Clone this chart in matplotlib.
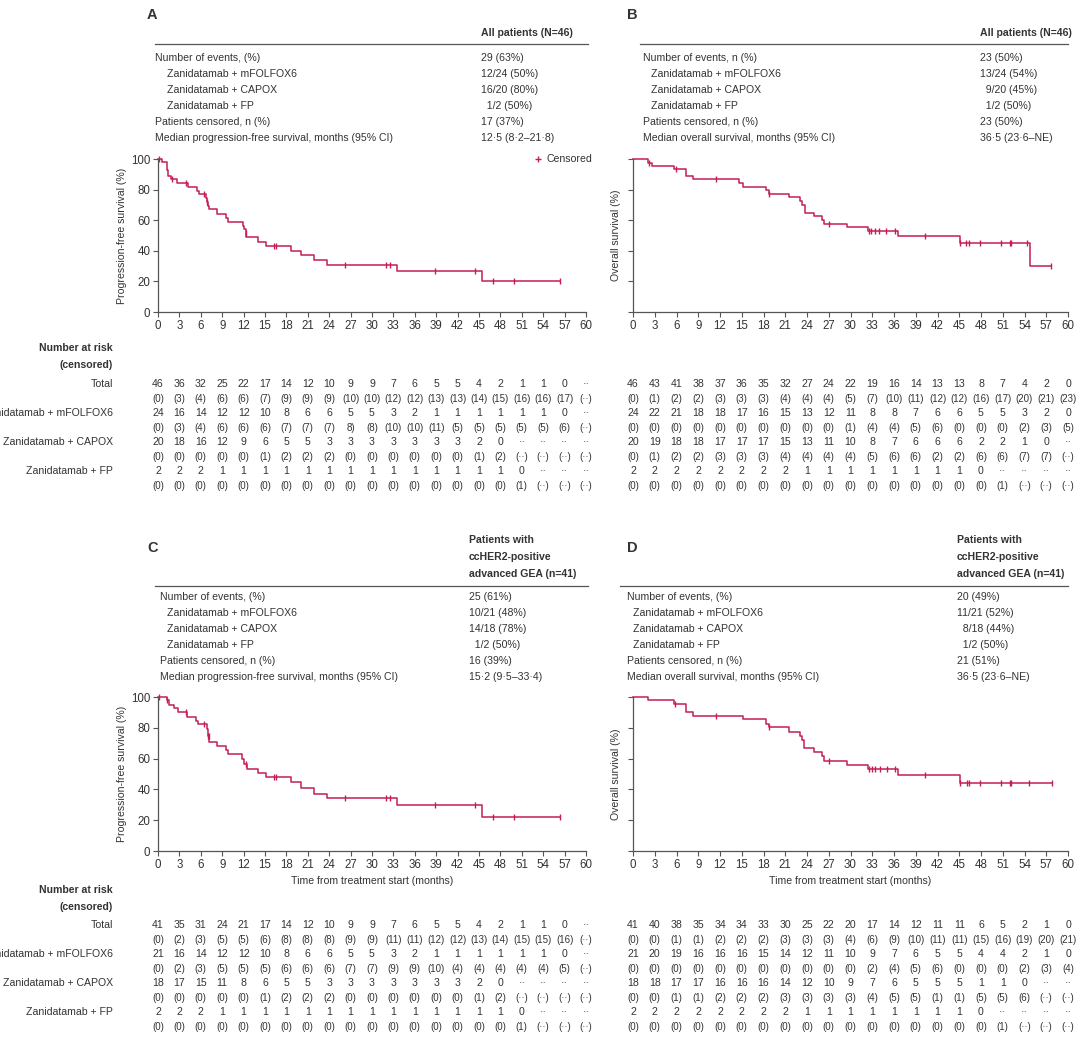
import matplotlib
matplotlib.use("Agg")
import matplotlib.pyplot as plt
from matplotlib.transforms import blended_transform_factory as btf

plt.rcParams['font.family'] = ['Liberation Sans', 'DejaVu Sans']
RED = '#c41e55'
TXT = '#333333'
GR = '#555555'

months = list(range(0, 61, 3))

# ---------- curves (time, survival after step) ----------
A_t = [0, 0.5, 1.2, 1.4, 1.8, 2.7, 4.2, 5.4, 5.8, 6.7, 6.9, 7.0, 7.2, 8.3, 9.6, 9.8, 11.9, 12.1, 12.3, 12.4, 14.0, 15.2, 18.6, 20.0, 21.9, 23.7, 33.5, 45.4, 56.3]
A_s = [100, 97.8, 93, 89, 87, 84, 82, 79, 77, 74.5, 72, 69.5, 67, 64, 61.5, 59, 56.5, 54, 51.5, 49, 46, 43, 40, 37, 34, 31, 26.5, 20, 20]
A_ct = [0.1, 1.9, 3.9, 6.5, 6.9, 12.3, 16.2, 16.5, 26.2, 32.0, 32.5, 38.8, 44.4, 47.0, 49.9, 56.3]

B_t = [0, 2.0, 2.6, 5.6, 7.3, 8.3, 14.6, 15.2, 18.3, 18.7, 21.5, 23.1, 23.3, 23.7, 25.0, 26.0, 26.3, 29.5, 32.4, 36.5, 45.1, 54.8, 57.6]
B_s = [100, 97.2, 95.6, 93.2, 88.7, 86.7, 84.3, 81.9, 79.7, 77.3, 74.9, 72.3, 69.7, 64.9, 62.7, 60.1, 57.7, 55.3, 53.2, 49.7, 45.3, 30.1, 30.1]
B_ct = [2.2, 5.9, 11.5, 18.8, 27.1, 32.5, 32.8, 33.4, 33.9, 34.9, 36.2, 40.3, 45.1, 45.9, 46.3, 47.9, 50.7, 52.0, 52.2, 54.4, 57.6]

C_t = [0, 1.2, 1.6, 2.3, 2.8, 4.0, 5.3, 5.6, 6.9, 7.0, 7.2, 8.3, 9.6, 9.8, 11.8, 12.1, 12.5, 14.0, 15.2, 18.6, 20.0, 21.9, 23.7, 33.5, 45.4, 56.3]
C_s = [100, 98, 95, 92.6, 90.2, 87.2, 84.6, 82.2, 79.1, 75, 71.1, 68.3, 65.5, 62.8, 59.8, 56.7, 53.5, 50.9, 48.3, 44.6, 40.7, 37.2, 34.6, 29.8, 22, 22]
C_ct = [0.1, 1.3, 3.9, 6.5, 7.0, 7.1, 12.4, 16.2, 16.5, 26.2, 32.0, 32.5, 38.8, 44.4, 47.0, 49.9, 56.3]

D_t = [0, 2.0, 5.6, 7.3, 8.3, 15.2, 18.3, 18.7, 21.5, 23.1, 23.3, 23.6, 24.9, 26.0, 26.3, 29.5, 32.4, 36.5, 45.1, 57.8]
D_s = [100, 98, 95.2, 90.4, 87.8, 85.4, 82.6, 80.2, 77.4, 74.9, 71.9, 67, 64.1, 61.5, 58.5, 55.9, 53.5, 49.1, 44.1, 44.1]
D_ct = [5.8, 11.5, 18.8, 27.1, 32.5, 32.9, 33.4, 34.0, 35.0, 36.2, 40.3, 45.1, 46.0, 46.4, 47.9, 50.7, 52.0, 52.2, 54.6, 57.8]

# ---------- summary tables ----------
row_labels_pfs = ["Number of events, (%)", "Zanidatamab + mFOLFOX6", "Zanidatamab + CAPOX", "Zanidatamab + FP",
                  "Patients censored, n (%)", "Median progression-free survival, months (95% CI)"]
row_labels_os_A = ["Number of events, n (%)", "Zanidatamab + mFOLFOX6", "Zanidatamab + CAPOX", "Zanidatamab + FP",
                   "Patients censored, n (%)", "Median overall survival, months (95% CI)"]
row_labels_os_D = ["Number of events, (%)", "Zanidatamab + mFOLFOX6", "Zanidatamab + CAPOX", "Zanidatamab + FP",
                   "Patients censored, n (%)", "Median overall survival, months (95% CI)"]
A_vals = ["29 (63%)", "12/24 (50%)", "16/20 (80%)", "  1/2 (50%)", "17 (37%)", "12·5 (8·2–21·8)"]
B_vals = ["23 (50%)", "13/24 (54%)", "  9/20 (45%)", "  1/2 (50%)", "23 (50%)", "36·5 (23·6–NE)"]
C_vals = ["25 (61%)", "10/21 (48%)", "14/18 (78%)", "  1/2 (50%)", "16 (39%)", "15·2 (9·5–33·4)"]
D_vals = ["20 (49%)", "11/21 (52%)", "  8/18 (44%)", "  1/2 (50%)", "21 (51%)", "36·5 (23·6–NE)"]
hdr_all = ["All patients (N=46)"]
hdr_cc = ["Patients with", "ccHER2-positive", "advanced GEA (n=41)"]

# ---------- number at risk ----------
risk_labels = ["Total", "Zanidatamab + mFOLFOX6", "Zanidatamab + CAPOX", "Zanidatamab + FP"]
A_risk = [[46,36,32,25,22,17,14,12,10,9,9,7,6,5,5,4,2,1,1,0,"··"],
          [24,16,14,12,12,10,8,6,6,5,5,3,2,1,1,1,1,1,1,0,"··"],
          [20,18,16,12,9,6,5,5,3,3,3,3,3,3,3,2,0,"··","··","··","··"],
          [2,2,2,1,1,1,1,1,1,1,1,1,1,1,1,1,1,0,"··","··","··"]]
A_cens = [[0,3,4,6,6,7,9,9,9,10,10,12,12,13,13,14,15,16,16,17,"··"],
          [0,3,4,6,6,6,7,7,7,"8)",8,10,10,11,5,5,5,5,5,6,"··"],
          [0,0,0,0,0,1,2,2,2,0,0,0,0,0,0,1,2,"··","··","··","··"],
          [0,0,0,0,0,0,0,0,0,0,0,0,0,0,0,0,0,1,"··","··","··"]]
B_risk = [[46,43,41,38,37,36,35,32,27,24,22,19,16,14,13,13,8,7,4,2,0],
          [24,22,21,18,18,17,16,15,13,12,11,8,8,7,6,6,5,5,3,2,0],
          [20,19,18,18,17,17,17,15,13,11,10,8,7,6,6,6,2,2,1,0,"··"],
          [2,2,2,2,2,2,2,2,1,1,1,1,1,1,1,1,0,"··","··","··","··"]]
B_cens = [[0,1,2,2,3,3,3,4,4,4,5,7,10,11,12,12,16,17,20,21,23],
          [0,0,0,0,0,0,0,0,0,0,1,4,4,5,6,0,0,0,2,3,5],
          [0,1,2,2,3,3,3,4,4,4,4,5,6,6,2,2,6,6,7,7,"··"],
          [0,0,0,0,0,0,0,0,0,0,0,0,0,0,0,0,0,1,"··","··","··"]]
C_risk = [[41,35,31,24,21,17,14,12,10,9,9,7,6,5,5,4,2,1,1,0,"··"],
          [21,16,14,12,12,10,8,6,6,5,5,3,2,1,1,1,1,1,1,0,"··"],
          [18,17,15,11,8,6,5,5,3,3,3,3,3,3,3,2,0,"··","··","··","··"],
          [2,2,2,1,1,1,1,1,1,1,1,1,1,1,1,1,1,0,"··","··","··"]]
C_cens = [[0,2,3,5,5,6,8,8,8,9,9,11,11,12,12,13,14,15,15,16,"··"],
          [0,2,3,5,5,5,6,6,6,7,7,9,9,10,4,4,4,4,4,5,"··"],
          [0,0,0,0,0,1,2,2,2,0,0,0,0,0,0,1,2,"··","··","··","··"],
          [0,0,0,0,0,0,0,0,0,0,0,0,0,0,0,0,0,1,"··","··","··"]]
D_risk = [[41,40,38,35,34,34,33,30,25,22,20,17,14,12,11,11,6,5,2,1,0],
          [21,20,19,16,16,16,15,14,12,11,10,9,7,6,5,5,4,4,2,1,0],
          [18,18,17,17,16,16,16,14,12,10,9,7,6,5,5,5,1,1,0,"··","··"],
          [2,2,2,2,2,2,2,2,1,1,1,1,1,1,1,1,0,"··","··","··","··"]]
D_cens = [[0,0,1,1,2,2,2,3,3,3,4,6,9,10,11,11,15,16,19,20,21],
          [0,0,0,0,0,0,0,0,0,0,0,2,4,5,6,0,0,0,2,3,4],
          [0,0,1,1,2,2,2,3,3,3,3,4,5,5,1,1,5,5,6,"··","··"],
          [0,0,0,0,0,0,0,0,0,0,0,0,0,0,0,0,0,1,"··","··","··"]]

W, H = 1080, 1044
fig = plt.figure(figsize=(W/100, H/100), dpi=100)
FS = 7.6

def fy(y): return 1 - y/H
def fx(x): return x/W

def km(ax, t, s, ct):
    ax.step(t, s, where='post', color=RED, lw=1.1, clip_on=False)
    import numpy as np
    ts = np.array(t); ss = np.array(s)
    for c in ct:
        idx = np.searchsorted(ts, c, side='right') - 1
        ax.plot([c], [ss[idx]], marker='|', ms=5, mew=1.0, color=RED, clip_on=False)

def make_axes(x0, x1, ytop, ybot, ylab, show_yt):
    ax = fig.add_axes([fx(x0), fy(ybot), fx(x1) - fx(x0), fy(ytop) - fy(ybot)])
    ax.set_xlim(0, 60); ax.set_ylim(0, 100)
    ax.set_xticks(months)
    ax.set_yticks([0, 20, 40, 60, 80, 100])
    if not show_yt:
        ax.set_yticklabels([])
    for sp in ['top', 'right']:
        ax.spines[sp].set_visible(False)
    for sp in ['left', 'bottom']:
        ax.spines[sp].set_color(GR); ax.spines[sp].set_linewidth(0.9)
    ax.tick_params(colors=GR, labelcolor=TXT, labelsize=8.3, length=3.5, width=0.8, pad=2)
    ax.set_ylabel(ylab, fontsize=FS, color=TXT, labelpad=3)
    return ax

def summary(letter, lx, hdr_lines, hdr_y, line_y, lx0, lx1, left_x, ind_x, val_x, labels, vals, row_y):
    fig.text(fx(lx), fy(hdr_y[0] - 18 if len(hdr_lines) == 1 else hdr_y[0] + 8), letter, fontsize=10.5,
             fontweight='bold', color=TXT, va='center')
    for h, y in zip(hdr_lines, hdr_y):
        fig.text(fx(val_x), fy(y), h, fontsize=FS, fontweight='bold', color=TXT, va='center')
    fig.add_artist(plt.Line2D([fx(lx0), fx(lx1)], [fy(line_y), fy(line_y)], color=GR, lw=0.9))
    for i, (lab, v, y) in enumerate(zip(labels, vals, row_y)):
        x = ind_x if i in (1, 2, 3) else left_x
        fig.text(fx(x), fy(y), lab, fontsize=FS, color=TXT, va='center')
        fig.text(fx(val_x), fy(y), v, fontsize=FS, color=TXT, va='center')

def risk(ax, risk, cens, rows_y, show_labels, head_y):
    tr = btf(ax.transData, fig.transFigure)
    if show_labels:
        fig.text(fx(113), fy(head_y), "Number at risk", fontsize=FS, fontweight='bold', color=TXT, ha='right', va='center')
        fig.text(fx(113), fy(head_y + 17), "(censored)", fontsize=FS, fontweight='bold', color=TXT, ha='right', va='center')
    for r in range(4):
        yn, yc = rows_y[2*r], rows_y[2*r+1]
        if show_labels:
            fig.text(fx(113), fy(yn), risk_labels[r], fontsize=FS, color=TXT, ha='right', va='center')
        for m, n, c in zip(months, risk[r], cens[r]):
            ax.text(m, fy(yn), str(n), transform=tr, fontsize=FS, color=TXT, ha='center', va='center')
            cs = c if isinstance(c, str) and c.endswith(')') else "(%s)" % c
            ax.text(m, fy(yc), cs, transform=tr, fontsize=FS - 0.6, color=TXT, ha='center', va='center')

rowsA = [58, 74, 90, 106, 122, 138]
rowsC = [597, 613, 629, 645, 661, 677]

summary("A", 147, hdr_all, [33], 44, 155, 588, 155, 167, 481, row_labels_pfs, A_vals, rowsA)
summary("B", 627, hdr_all, [33], 44, 640, 1068, 643, 651, 980, row_labels_os_A, B_vals, rowsA)
summary("C", 147, hdr_cc, [540, 557, 574], 586, 155, 588, 160, 167, 469, row_labels_pfs, C_vals, rowsC)
summary("D", 627, hdr_cc, [540, 557, 574], 586, 620, 1068, 627, 633, 957, row_labels_os_D, D_vals, rowsC)

axA = make_axes(158, 586, 159, 312, "Progression-free survival (%)", True)
axB = make_axes(633, 1068, 159, 312, "Overall survival (%)", False)
axC = make_axes(158, 586, 697, 851, "Progression-free survival (%)", True)
axD = make_axes(633, 1068, 697, 851, "Overall survival (%)", False)
km(axA, A_t, A_s, A_ct); km(axB, B_t, B_s, B_ct)
km(axC, C_t, C_s, C_ct); km(axD, D_t, D_s, D_ct)

axA.plot([53.3], [100], marker='+', ms=5, mew=1.0, color=RED, clip_on=False)
axA.text(54.5, 100, "Censored", fontsize=FS, color=TXT, va='center')

for ax in (axC, axD):
    ax.set_xlabel("Time from treatment start (months)", fontsize=FS, color=TXT, labelpad=4)

rA = [384, 399, 413, 428, 442, 457, 471, 486]
rC = [925, 940, 954, 969, 983, 998, 1012, 1027]
risk(axA, A_risk, A_cens, rA, True, 348)
risk(axB, B_risk, B_cens, rA, False, 348)
risk(axC, C_risk, C_cens, rC, True, 890)
risk(axD, D_risk, D_cens, rC, False, 890)

fig.savefig("out.png", dpi=100, facecolor='white')
